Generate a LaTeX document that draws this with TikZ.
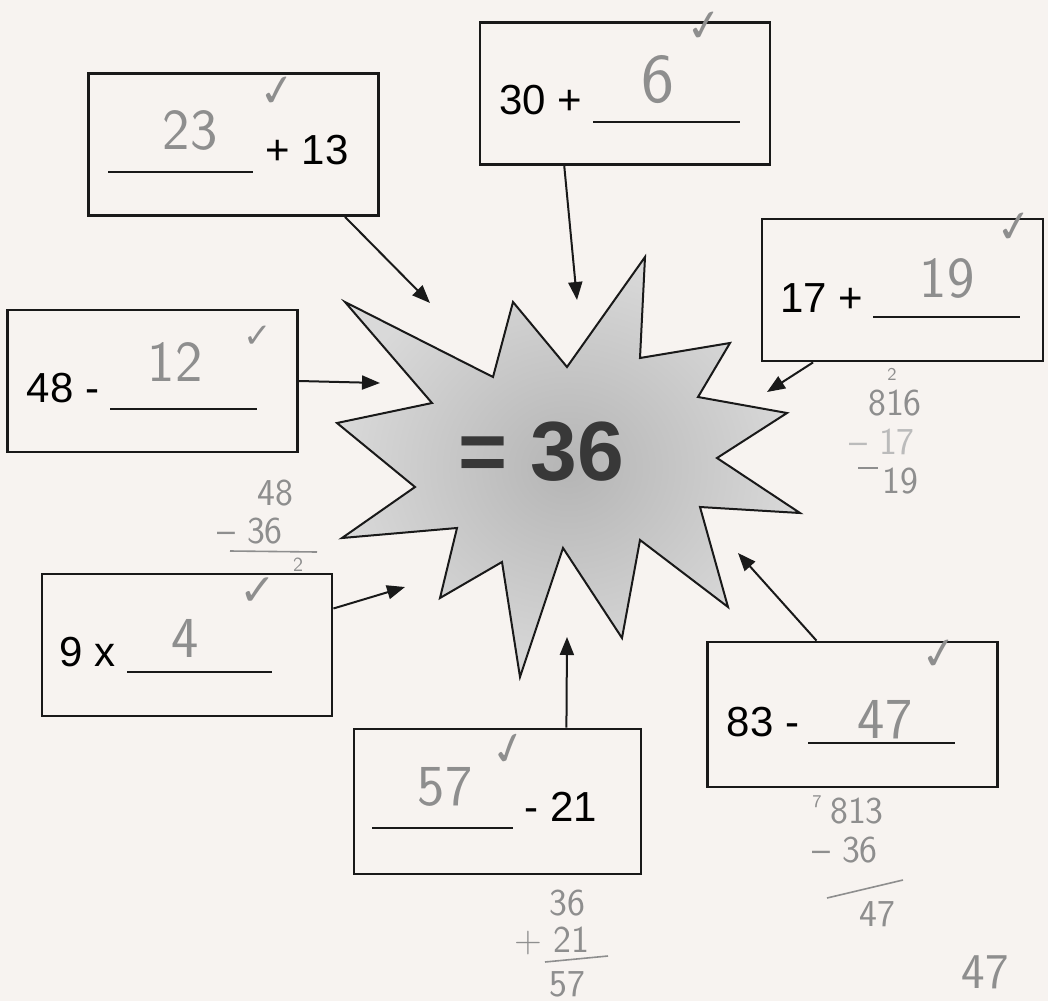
\documentclass[tikz,border=0pt]{standalone}
\usepackage{fontspec}
\setmainfont{Liberation Sans}
\newfontfamily\checkfont{DejaVu Sans}
\usepackage{tikz}
\usetikzlibrary{arrows.meta,positioning,calc}
\definecolor{paper}{HTML}{F7F3F0}
\definecolor{pencil}{HTML}{8E8E8E}
\tikzset{
  wsBox/.style={draw=black!90, line width=1.4pt, minimum width=145pt,
    minimum height=71pt, inner sep=0pt},
  wsText/.style={font=\fontsize{21}{21}\selectfont, text=black, inner sep=0pt},
  wsBlank/.style={draw=black!90, line width=1.1pt},
  %% pencil marks
  wsAns/.style={font=\sffamily\fontsize{29}{29}\selectfont, text=pencil, inner sep=0pt},
  wsWork/.style={font=\sffamily\fontsize{19}{19}\selectfont, text=pencil, inner sep=0pt},
  wsTick/.style={font=\checkfont\fontsize{22}{22}\selectfont, text=pencil, inner sep=0pt},
  wsPencil/.style={draw=pencil, line width=0.8pt},
  %% arrows and star
  wsArr/.style={-{Triangle[length=9pt,width=7pt]}, line width=1pt, draw=black!90},
  wsStar/.style={draw=black!90, line width=1pt, inner color=gray!58, outer color=gray!30},
}

\begin{document}
\begin{tikzpicture}[x=0.5pt, y=-0.5pt]
\fill[paper] (0,0) rectangle (1048,1001);
\useasboundingbox (0,0) rectangle (1048,1001);

%% Star
\shadedraw[wsStar] (345,302) -- (493,377) -- (513,302) -- (567,367) -- (645,257)
  -- (640,358) -- (730,343) -- (698,397) -- (787,413) -- (717,458) -- (800,513)
  -- (700,507) -- (728,607) -- (640,540) -- (622,638) -- (563,548) -- (520,677)
  -- (502,562) -- (440,598) -- (457,528) -- (342,538) -- (415,487) -- (337,423)
  -- (432,403) -- cycle;
\node[font=\bfseries\fontsize{42}{42}\selectfont, text=black!78] (res) at (541,452) {= 36};

%% Boxes
\node[wsBox] (q1) at (233.5,144.5) {};
\node[wsBox] (q2) at (625,93.5) {};
\node[wsBox, minimum width=140.5pt] (q3) at (902.5,290) {};
\node[wsBox] (q4) at (152.5,381) {};
\node[wsBox] (q5) at (187,645) {};
\node[wsBox, minimum width=143.5pt, minimum height=72.5pt] (q6) at (497.5,801.5) {};
\node[wsBox, minimum height=72.5pt] (q7) at (852.5,714.5) {};

%% Printed text
\node[wsText] (q1t) at (307,150) {+ 13};
\node[wsText] (q2t) at (541,100) {30 +};
\node[wsText] (q3t) at (822,298) {17 +};
\node[wsText] (q4t) at (63,388) {48 -};
\node[wsText] (q5t) at (88,652) {9 x};
\node[wsText] (q6t) at (561,807) {- 21};
\node[wsText] (q7t) at (763,722) {83 -};

%% Blanks
\draw[wsBlank] (108,172) -- (253,172);
\draw[wsBlank] (593,122) -- (740,122);
\draw[wsBlank] (873,317) -- (1020,317);
\draw[wsBlank] (110,409) -- (257,409);
\draw[wsBlank] (127,672) -- (272,672);
\draw[wsBlank] (372,828) -- (513,828);
\draw[wsBlank] (808,743) -- (955,743);

%% Arrows into the star
\coordinate (t1) at (430,303);
\coordinate (t2) at (577,300);
\coordinate (t3) at (767,392);
\coordinate (t4) at (380,383);
\coordinate (t5) at (405,587);
\coordinate (t6) at (567,637);
\coordinate (t7) at (738,553);
\draw[wsArr] (q1.-33) -- (t1);
\draw[wsArr] (q2.-130) -- (t2);
\draw[wsArr] (q3.-141) -- (t3);
\draw[wsArr] (q4.east) -- (t4);
\draw[wsArr] (q5.14) -- (t5);
\draw[wsArr] (q6.47) -- (t6);
\draw[wsArr] (q7.116) -- (t7);

%% Pencil answers
\node[wsAns] (a1) at (190,130) {23};
\node[wsAns, font=\sffamily\fontsize{35}{35}\selectfont] (a2) at (658,80) {6};
\node[wsAns] (a3) at (947,278) {19};
\node[wsAns] (a4) at (175,362) {12};
\node[wsAns] (a5) at (185,638) {4};
\node[wsAns] (a6) at (445,787) {57};
\node[wsAns] (a7) at (885,720) {47};

%% Ticks
\node[wsTick, rotate=8] (k1) at (278,92) {✓};
\node[wsTick, rotate=8] (k2) at (705,27) {✓};
\node[wsTick, rotate=8] (k3) at (1015,228) {✓};
\node[wsTick, font=\checkfont\fontsize{17}{17}\selectfont] (k4) at (258,337) {✓};
\node[wsTick] (k5) at (258,592) {✓};
\node[wsTick, rotate=15] (k6) at (510,750) {✓};
\node[wsTick, rotate=8] (k7) at (940,655) {✓};

%% Working out
\node[wsWork] (w4a) at (275,493) {48};
\node[wsWork] (w4b) at (250,531) {\textendash\ 36};
\draw[wsPencil] (230,551) -- (317,552);
\node[wsWork, font=\sffamily\fontsize{10}{10}\selectfont] (w4c) at (298,565) {2};

\node[wsWork, font=\sffamily\fontsize{9}{9}\selectfont] (w3a) at (892,374) {2};
\node[wsWork] (w3b) at (895,403) {816};
\node[wsWork, text=pencil!60] (w3c) at (882,442) {\textendash\ 17};
\draw[wsPencil] (858,468) -- (878,468);
\node[wsWork] (w3d) at (900,481) {19};

\node[wsWork, font=\sffamily\fontsize{9}{9}\selectfont] (w7a) at (817,802) {7};
\node[wsWork] (w7b) at (857,811) {813};
\node[wsWork] (w7c) at (845,850) {\textendash\ 36};
\draw[wsPencil] (827,898) -- (903,880);
\node[wsWork] (w7d) at (877,914) {47};

\node[wsWork] (w6a) at (567,903) {36};
\node[wsWork] (w6b) at (552,941) {+ 21};
\draw[wsPencil] (545,962) -- (608,956);
\node[wsWork] (w6c) at (567,984) {57};

\node[wsAns, font=\sffamily\fontsize{25}{25}\selectfont] (w0) at (985,972) {47};

\end{tikzpicture}
\end{document}
